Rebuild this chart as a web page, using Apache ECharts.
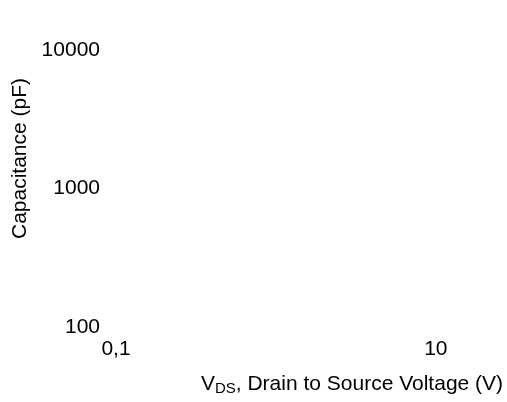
<!DOCTYPE html>
<html>
<head>
<meta charset="utf-8">
<script src="https://cdn.jsdelivr.net/npm/echarts@6/dist/echarts.min.js"></script>
<style>
  html, body { margin: 0; padding: 0; background: #fff; }
  #main { width: 507px; height: 402px; }
</style>
</head>
<body>
<div id="main"></div>
<script>
var xRange = [0.1, 20];          // V_DS, log scale
var yRange = [100, 10000];       // capacitance, log scale
var xTickLabels = [0.1, 10];     // only these are labelled
var yTickLabels = [100, 1000, 10000];
var seriesData = [];             // no curves in the picture

var fontFamily = '"Liberation Sans", Arial, sans-serif',
    textColor = '#000',
    fontSize = 21;

function labelFor(list, v) {
    for (var i = 0; i < list.length; i++) {
        if (Math.abs(Math.log10(v) - Math.log10(list[i])) < 1e-6) {
            return String(list[i]).replace('.', ',');
        }
    }
    return '';
}

var myChart = echarts.init(document.getElementById('main'));
var option = {
    animation: false,
    textStyle: { fontFamily: fontFamily, color: textColor },
    grid: { left: 116, right: 23, top: 50, bottom: 75 },
    xAxis: {
        type: 'log',
        logBase: 10,
        min: xRange[0],
        max: xRange[1],
        name: '{n|V}{s|DS}{n|, Drain to Source Voltage (V)}',
        nameLocation: 'middle',
        nameGap: 45,
        nameTextStyle: {
            padding: [0, 0, 0, 104],
            rich: {
                n: { fontSize: fontSize, fontFamily: fontFamily, color: textColor, lineHeight: 24 },
                s: { fontSize: 15, fontFamily: fontFamily, color: textColor, verticalAlign: 'bottom', lineHeight: 14, padding: [6, 0, 0, 0] }
            }
        },
        axisLine: { show: false },
        axisTick: { show: false },
        splitLine: { show: false },
        axisLabel: {
            fontSize: fontSize,
            color: textColor,
            margin: 12,
            formatter: function (v) { return labelFor(xTickLabels, v); }
        }
    },
    yAxis: {
        type: 'log',
        logBase: 10,
        min: yRange[0],
        max: yRange[1],
        name: 'Capacitance (pF)',
        nameLocation: 'middle',
        nameGap: 82,
        nameTextStyle: {
            fontSize: fontSize,
            color: textColor,
            padding: [0, 0, 0, 60]
        },
        axisLine: { show: false },
        axisTick: { show: false },
        splitLine: { show: false },
        axisLabel: {
            fontSize: fontSize,
            color: textColor,
            margin: 16,
            formatter: function (v) { return labelFor(yTickLabels, v); }
        }
    },
    series: [{
        type: 'line',
        data: seriesData,
        symbol: 'none'
    }]
};
myChart.setOption(option);
</script>
</body>
</html>
